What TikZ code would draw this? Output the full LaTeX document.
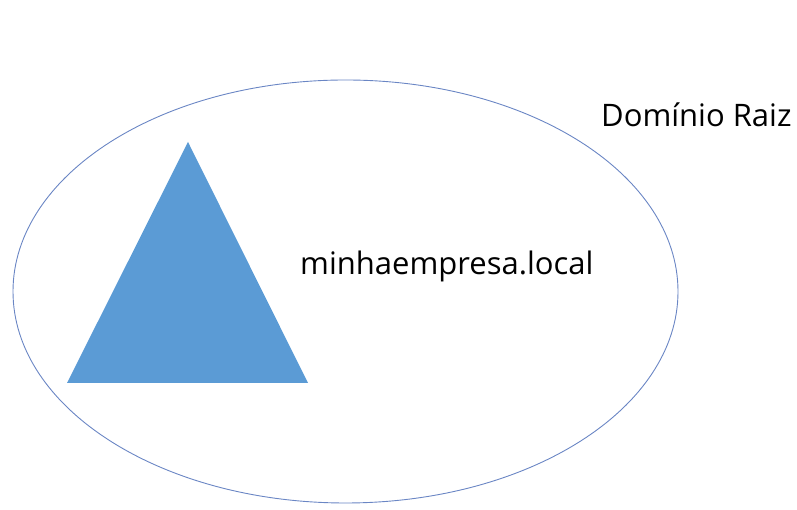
\documentclass[tikz,border=0pt]{standalone}
\usepackage{fontspec}
\setmainfont{Open Sans}
\usetikzlibrary{shapes, positioning}

\definecolor{triblue}{HTML}{5B9BD5}
\definecolor{ringblue}{HTML}{6A86C4}

\begin{document}
\begin{tikzpicture}[x=1pt, y=1pt, font=\fontsize{31}{36}\selectfont]

\useasboundingbox (0,0) rectangle (797,510);

\node[draw=ringblue, line width=0.9pt, ellipse, minimum width=665, minimum height=423, inner sep=0] (root) at (345.5,218.5) {};

\coordinate (apex) at (188,368);
\coordinate (baseleft) at (67,127);
\coordinate (baseright) at (308,127);
\fill[triblue] (apex) -- (baseleft) -- (baseright) -- cycle;

\node[anchor=base west, inner sep=0] (domain) at (300,235) {minhaempresa.local};
\node[anchor=base west, inner sep=0] (rootlabel) at (601,383) {Domínio Raiz};

\end{tikzpicture}
\end{document}
